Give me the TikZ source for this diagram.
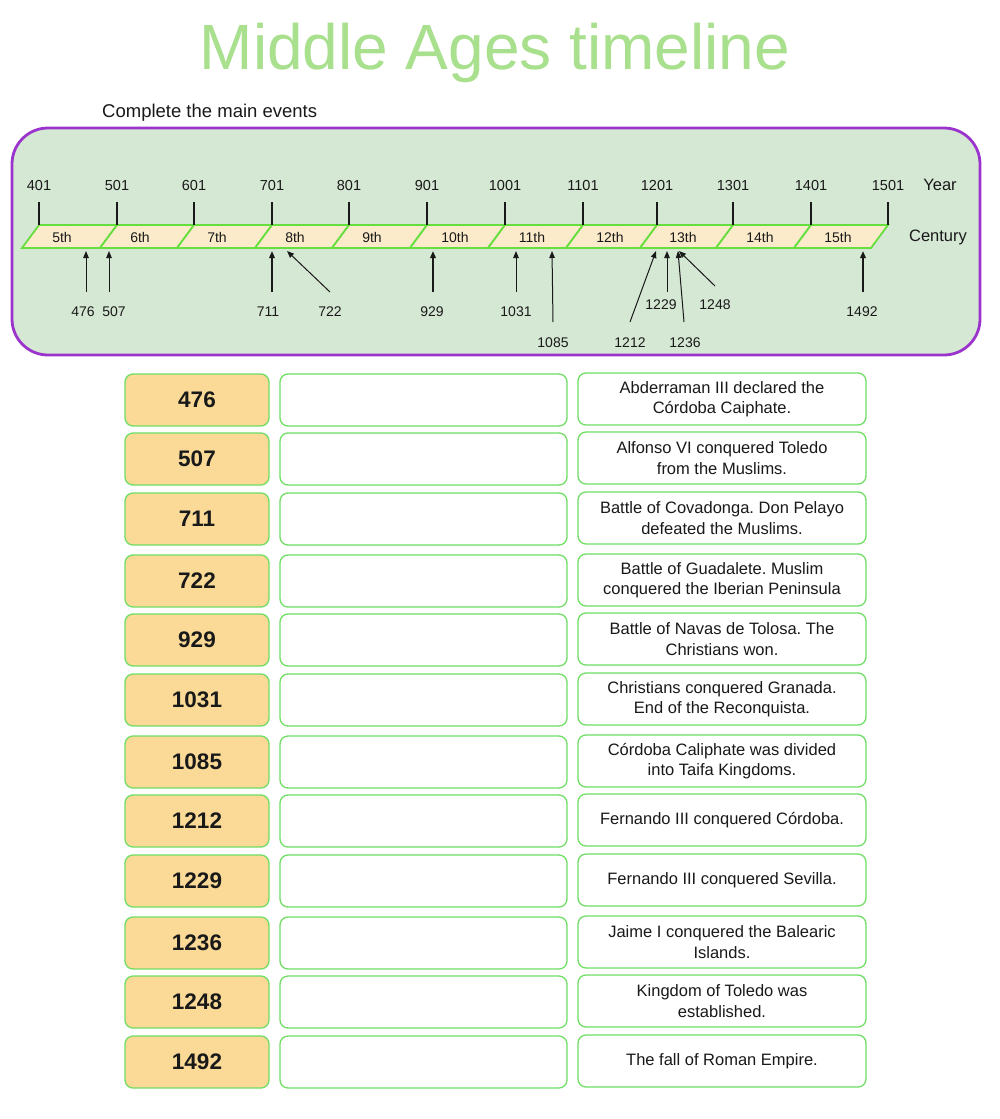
\documentclass[tikz,border=0pt]{standalone}
\usepackage{fontspec}
\setmainfont{Liberation Sans}
\usetikzlibrary{arrows.meta}
\frenchspacing
\definecolor{titlegreen}{RGB}{168,224,142}
\definecolor{framefill}{RGB}{213,232,212}
\definecolor{framepurple}{RGB}{155,52,205}
\definecolor{segfill}{RGB}{252,235,202}
\definecolor{seggreen}{RGB}{102,222,62}
\definecolor{numfill}{RGB}{250,218,150}
\definecolor{boxgreen}{RGB}{112,222,100}
\definecolor{txt}{RGB}{25,25,25}
\begin{document}
\begin{tikzpicture}[x=1pt,y=-1pt,
  segbox/.style={draw=seggreen, line width=1.8pt, fill=segfill},
  ticklbl/.style={font=\fontsize{14.5}{16}\selectfont, text=txt, inner sep=0pt},
  cenlbl/.style={font=\fontsize{14}{16}\selectfont, text=txt, inner sep=0pt},
  sidelbl/.style={font=\fontsize{16.5}{18}\selectfont, text=txt, inner sep=0pt},
  evlbl/.style={font=\fontsize{14}{16}\selectfont, text=txt, inner sep=0pt},
  tickline/.style={line width=1.2pt, draw=txt},
  arr/.style={-{Triangle[length=7pt,width=5.5pt]}, line width=1pt, draw=txt},
  arrthick/.style={arr, line width=1.7pt},
  numbox/.style={draw=boxgreen, line width=1.3pt, fill=numfill, rounded corners=8pt,
    minimum width=144pt, minimum height=52pt, inner sep=0pt, text=txt,
    font=\bfseries\fontsize{22.5}{26}\selectfont},
  blankbox/.style={draw=boxgreen, line width=1.3pt, fill=white, rounded corners=8pt,
    minimum width=287pt, minimum height=52pt, inner sep=0pt},
  evbox/.style={draw=boxgreen, line width=1.3pt, fill=white, rounded corners=8pt,
    minimum width=288pt, minimum height=52pt, inner sep=0pt, align=center, text=txt,
    font=\fontsize{16.5}{20.5}\selectfont}
]
\useasboundingbox[fill=white] (0,0) rectangle (1000,1119);

% title
\node[text=titlegreen, font=\fontsize{64}{70}\selectfont, inner sep=0pt] (title) at (495,53) {Middle Ages timeline};
\node[font=\fontsize{18.5}{20}\selectfont, text=txt, inner sep=0pt, anchor=west] (instr) at (102,113) {Complete the main events};

% frame
\draw[fill=framefill, draw=framepurple, line width=2.8pt, rounded corners=36pt] (12,128) rectangle (980,355);

% band segments
\foreach \a/\b in {39/117,117/194,194/272,272/349,349/427,427/505,505/583,583/657,657/733,733/811,811/888}{
  \draw[segbox] (\a,225) -- (\b,225) -- ({\b-17},248) -- ({\a-17},248) -- cycle;
}

% ticks and year labels
\foreach \x/\yr in {39/401,117/501,194/601,272/701,349/801,427/901,505/1001,583/1101,657/1201,733/1301,811/1401,888/1501}{
  \draw[tickline] (\x,202) -- (\x,225);
  \node[ticklbl] (y\yr) at (\x,186) {\yr};
}
\node[sidelbl] (yearlbl) at (940,185) {Year};
\node[sidelbl] (centlbl) at (938,237) {Century};

% century labels
\foreach \x/\c in {62/5,140/6,217/7,295/8,372/9,455/10,532/11,610/12,683/13,760/14,838/15}{
  \node[cenlbl] (c\c) at (\x,237) {\c th};
}

% event arrows
\foreach \yr/\lx/\ly/\tx/\ty/\hx/\st in {
  476/83/312/86/292/86/arr,
  507/114/312/109/292/109/arr,
  711/268/312/272/292/272/arrthick,
  722/330/312/330/292/287/arr,
  929/432/312/433/292/433/arrthick,
  1031/516/312/516/292/516/arr,
  1085/553/343/553/322/552/arr,
  1212/630/343/630/322/656/arr,
  1229/661/305/667/292/667/arr,
  1236/685/343/684/322/678/arr,
  1248/715/305/715/286/679/arr,
  1492/862/312/863/292/863/arrthick}{
  \node[evlbl] (l\yr) at (\lx,\ly) {\yr};
  \coordinate (t\yr) at (\tx,\ty);
  \coordinate (h\yr) at (\hx,251);
  \draw[\st] (t\yr) -- (h\yr);
}

% table
\foreach \i/\y/\yr/\ev in {
  1/400/476/{Abderraman III declared the\\Córdoba Caiphate.},
  2/459/507/{Alfonso VI conquered Toledo\\from the Muslims.},
  3/519/711/{Battle of Covadonga. Don Pelayo\\defeated the Muslims.},
  4/581/722/{Battle of Guadalete. Muslim\\conquered the Iberian Peninsula},
  5/640/929/{Battle of Navas de Tolosa. The\\Christians won.},
  6/700/1031/{Christians conquered Granada.\\End of the Reconquista.},
  7/762/1085/{Córdoba Caliphate was divided\\into Taifa Kingdoms.},
  8/821/1212/{Fernando III conquered Córdoba.},
  9/881/1229/{Fernando III conquered Sevilla.},
  10/943/1236/{Jaime I conquered the Balearic\\Islands.},
  11/1002/1248/{Kingdom of Toledo was\\established.},
  12/1062/1492/{The fall of Roman Empire.}}{
  \node[numbox] (n\i) at (197,\y) {\yr};
  \node[blankbox] (b\i) at (423.5,\y) {};
  \node[evbox] (e\i) at (722,{\y-1}) {\ev};
}
\end{tikzpicture}
\end{document}
